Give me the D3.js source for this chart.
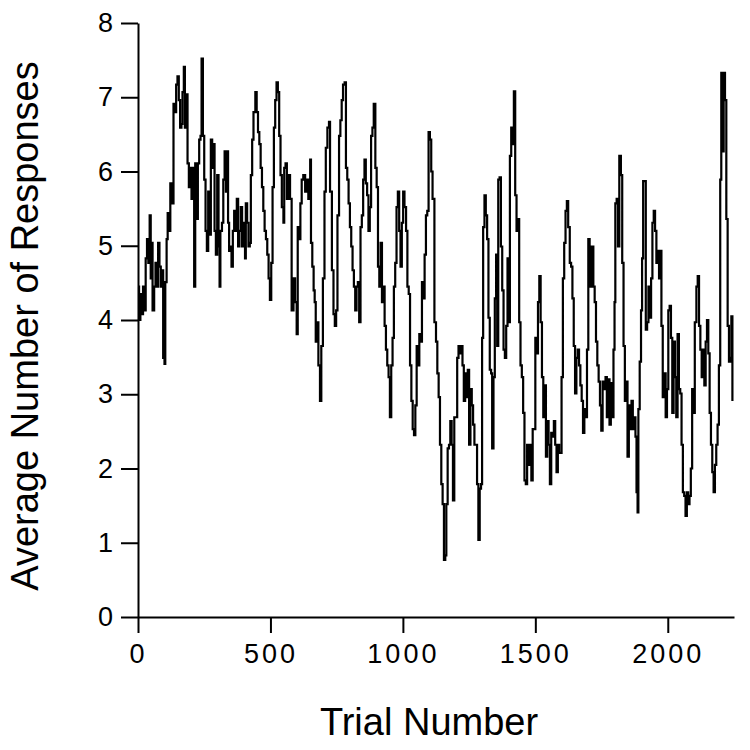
<!DOCTYPE html>
<html lang="en">

<head>
    <meta charset="UTF-8">
    <title>Average Number of Responses</title>
    <style>
        body { margin: 0; background: #fff; }
        text { font-family: "Liberation Sans", Arial, sans-serif; fill: #000; }
    </style>
</head>

<body>
    <div id="graph"></div>
    <script src="https://d3js.org/d3.v7.min.js"></script>

    <script>
        const WIDTH = 750;
        const HEIGHT = 750;
        const PLOT_LEFT = 138;
        const PLOT_RIGHT = 734;
        const PLOT_TOP = 23;
        const PLOT_BOTTOM = 617;

        const X_MAX = 2250;
        const Y_MAX = 8;
        const X_TICKS = [0, 500, 1000, 1500, 2000];
        const Y_TICKS = [0, 1, 2, 3, 4, 5, 6, 7, 8];

        // trial number of each point
        const TRIALS = [
            0, 4, 9, 14, 19, 24, 29, 34, 39, 44, 48, 52, 55, 61, 66, 71, 76, 81, 86, 91,
            95, 100, 103, 108, 112, 117, 122, 129, 134, 139, 144, 149, 154, 159, 164, 168, 173, 177, 182, 187,
            192, 197, 202, 208, 212, 216, 221, 226, 231, 236, 240, 245, 250, 255, 260, 265, 270, 275, 280, 285,
            289, 294, 299, 304, 308, 311, 317, 322, 327, 332, 337, 340, 344, 349, 353, 358, 363, 368, 373, 378,
            383, 388, 393, 398, 404, 407, 412, 417, 422, 426, 431, 436, 443, 448, 453, 458, 463, 468, 473, 478,
            483, 488, 493, 498, 503, 508, 513, 518, 523, 528, 533, 538, 543, 549, 552, 557, 562, 567, 574,
            580, 587, 593, 599, 603, 608, 613, 618, 624, 631, 637, 643, 650, 653, 658, 663, 667, 671, 676, 681,
            687, 692, 698, 704, 709, 715, 721, 725, 732, 738, 743, 748, 753, 759, 764, 769, 774, 780, 785, 790,
            795, 800, 805, 810, 815, 820, 825, 830, 835, 840, 845, 850, 855, 860, 865, 870, 875, 880, 885, 890,
            896, 901, 906, 911, 916, 921, 926, 931, 936, 941, 946, 951, 956, 961, 966, 971, 976, 981, 986, 991,
            996, 1001, 1006, 1012, 1017, 1022, 1027, 1032, 1037, 1042, 1047, 1052, 1057, 1062, 1067, 1072, 1077, 1082, 1087, 1092,
            1097, 1102, 1107, 1112,
            1119, 1125, 1130, 1135, 1140, 1145, 1150, 1155, 1160, 1164, 1169, 1174, 1179, 1184, 1189, 1194, 1200, 1205, 1210, 1215,
            1220, 1225, 1230, 1235, 1240, 1245, 1250, 1255, 1260, 1265, 1270, 1275, 1280, 1285, 1290, 1295, 1299, 1303, 1308, 1313,
            1318, 1323, 1328, 1333, 1337, 1342, 1347, 1352, 1356, 1360, 1365, 1370, 1375, 1380, 1385, 1390, 1395, 1400, 1404, 1409,
            1414, 1419, 1424, 1429, 1434, 1439, 1444, 1449, 1454, 1459, 1464, 1469, 1474, 1479, 1485, 1490, 1495, 1500, 1505, 1510,
            1515, 1520, 1525, 1530, 1535, 1540, 1545, 1550, 1555, 1560, 1565, 1570, 1575, 1580, 1585, 1590, 1595, 1599, 1604, 1609,
            1614, 1619, 1624, 1630, 1635, 1640, 1645, 1650, 1655, 1660, 1665, 1670, 1675, 1680, 1685, 1690, 1695, 1700, 1705,
            1713, 1719, 1724, 1729, 1734, 1739, 1744, 1749, 1754, 1759, 1765, 1770, 1775, 1780, 1785, 1790, 1795, 1799, 1802, 1807,
            1812, 1817, 1823, 1828, 1833, 1838, 1843, 1848, 1853, 1858, 1863, 1868, 1873, 1878, 1882, 1886, 1889, 1894, 1899, 1903,
            1907, 1912, 1917, 1922, 1927, 1932, 1937, 1942, 1947, 1952, 1957, 1962, 1967, 1973, 1976, 1981, 1986, 1992, 1997, 2002,
            2007, 2012, 2017, 2022, 2027, 2032, 2037, 2042, 2047, 2052, 2057, 2062, 2067, 2072, 2077, 2082, 2087, 2092, 2097, 2102,
            2108, 2113, 2118, 2123, 2128, 2133, 2138, 2143, 2148, 2153, 2158, 2163, 2168, 2173, 2178, 2183, 2188, 2193, 2198, 2202,
            2206, 2211, 2216, 2221, 2226, 2231, 2236, 2240, 2244
        ];

        const RESPONSES = [
            4.45, 4.00, 4.35, 4.08, 4.45, 4.13, 4.83, 5.09, 4.77, 5.41, 4.56, 5.04, 4.13, 4.45, 4.77, 4.45, 5.04, 4.72, 4.45, 4.67,
            3.49, 3.41, 4.51, 5.09, 5.44, 5.20, 5.84, 5.57, 6.91, 6.80, 7.17, 7.28, 6.96, 6.59, 6.64, 7.07, 7.41, 6.59, 7.04, 6.11,
            5.79, 6.05, 5.63, 6.05, 4.45, 6.11, 5.36, 6.11, 6.43, 6.48, 7.52, 6.48, 5.89, 5.20, 4.93, 5.73, 5.15, 6.43, 6.05, 6.37,
            5.20, 4.88, 5.95, 4.99, 4.45, 5.20, 5.31, 5.89, 6.27, 5.73, 6.27, 5.31, 4.93, 4.99, 4.72, 5.20, 5.47, 5.20, 5.63, 4.99,
            5.20, 5.52, 4.99, 5.31, 4.83, 5.57, 5.31, 4.99, 5.04, 5.95, 6.43, 6.80, 7.07, 6.80, 6.53, 6.37, 6.05, 5.79, 5.47, 5.20,
            5.09, 4.88, 4.56, 4.27, 4.77, 5.79, 6.59, 6.96, 7.20, 7.07, 6.48, 5.95, 5.52, 5.31, 6.05, 6.11, 5.63, 5.95, 5.63,
            4.13, 4.56, 4.24, 3.81, 5.25, 5.09, 5.57, 5.89, 5.95, 5.73, 5.89, 5.63, 6.16, 5.04, 4.72, 4.40, 4.24, 3.71, 3.97, 3.39,
            2.91, 3.65, 4.56, 5.73, 6.32, 6.59, 6.67, 5.73, 4.67, 4.08, 3.92, 4.13, 5.41, 6.48, 6.69, 6.96, 7.17, 7.20, 6.05, 5.89,
            5.57, 5.25, 4.99, 4.67, 4.45, 4.13, 4.45, 4.51, 3.97, 5.25, 5.41, 5.89, 6.16, 5.84, 5.68, 5.20, 5.52, 6.48, 6.59, 6.91,
            6.05, 5.79, 4.72, 4.45, 5.04, 4.24, 4.45, 3.92, 3.60, 3.39, 3.23, 2.69, 3.39, 3.76, 4.45, 4.77, 5.52, 5.73, 5.20, 4.72,
            5.31, 5.73, 5.52, 5.20, 4.45, 4.35, 3.39, 2.91, 2.53, 2.45, 2.85, 3.65, 3.39, 3.81, 3.71, 4.51, 4.29, 4.88, 5.41, 5.47,
            6.53, 6.43, 6.00, 5.63,
            3.97, 3.71, 3.28, 2.96, 2.32, 1.79, 1.52, 0.77, 0.83, 1.52, 2.27, 2.32, 2.64, 2.32, 1.57, 2.69, 2.69, 3.49, 3.65, 3.55,
            3.65, 3.39, 2.91, 3.28, 2.96, 3.33, 2.32, 3.07, 2.85, 2.59, 2.32, 2.32, 1.79, 1.04, 1.73, 1.79, 3.76, 5.25, 5.68, 5.41,
            5.09, 4.03, 3.33, 3.28, 2.27, 3.23, 4.29, 4.88, 3.65, 5.89, 5.92, 4.99, 4.40, 3.60, 3.49, 3.92, 4.83, 3.97, 6.21, 6.59,
            6.37, 7.08, 5.68, 5.20, 5.36, 3.97, 3.39, 3.23, 2.75, 1.84, 1.79, 2.32, 2.05, 2.32, 1.84, 2.53, 2.53, 3.76, 3.55, 4.24,
            4.59, 3.97, 3.23, 2.69, 3.12, 2.16, 2.64, 2.32, 1.79, 2.48, 2.43, 2.64, 2.32, 1.95, 2.32, 2.21, 2.21, 3.23, 4.56, 5.04,
            5.47, 5.60, 5.25, 4.77, 4.72, 4.29, 3.65, 3.01, 3.49, 3.60, 3.39, 3.12, 2.91, 2.48, 2.80, 2.69, 3.60, 5.09, 4.45,
            4.99, 4.45, 4.24, 3.71, 3.39, 3.17, 2.85, 2.51, 3.17, 3.07, 3.23, 2.69, 3.20, 2.59, 3.15, 2.69, 3.60, 4.24, 5.57, 5.63,
            4.99, 6.21, 5.95, 4.77, 3.65, 2.91, 3.17, 2.16, 2.85, 2.53, 2.91, 2.53, 2.69, 2.43, 1.68, 1.41, 2.80, 3.44, 4.13, 4.83,
            5.87, 5.87, 3.87, 3.97, 4.45, 4.03, 4.56, 5.31, 5.47, 5.20, 4.77, 4.93, 4.56, 4.93, 3.92, 2.96, 3.28, 2.69, 3.07, 4.13,
            4.19, 3.76, 2.75, 3.71, 3.23, 2.69, 3.81, 3.07, 3.01, 2.32, 1.68, 1.63, 1.36, 1.68, 1.52, 1.63, 2.00, 3.07, 2.75, 3.97,
            4.45, 4.59, 3.92, 3.60, 3.23, 3.60, 3.12, 3.71, 4.00, 3.55, 2.75, 2.32, 1.95, 1.68, 2.05, 2.32, 2.59, 3.39, 5.89, 7.33,
            6.27, 7.33, 6.96, 5.36, 3.92, 3.44, 3.49, 4.05, 2.91
        ];

        const X_TITLE = "Trial Number";
        const Y_TITLE = "Average Number of Responses";

        const points = d3.zip(TRIALS, RESPONSES);

        const xScale = d3.scaleLinear()
            .domain([0, X_MAX])
            .range([PLOT_LEFT, PLOT_RIGHT]);

        const yScale = d3.scaleLinear()
            .domain([0, Y_MAX])
            .range([PLOT_BOTTOM, PLOT_TOP]);

        const svg = d3.select("#graph")
            .append("svg")
            .attr("width", WIDTH)
            .attr("height", HEIGHT);

        const xAxis = svg.append("g")
            .attr("transform", `translate(0, ${PLOT_BOTTOM})`)
            .call(d3.axisBottom(xScale)
                .tickValues(X_TICKS)
                .tickFormat(d3.format("d"))
                .tickSize(16)
                .tickSizeOuter(0)
                .tickPadding(11));

        const yAxis = svg.append("g")
            .attr("transform", `translate(${PLOT_LEFT}, 0)`)
            .call(d3.axisLeft(yScale)
                .tickValues(Y_TICKS)
                .tickFormat(d3.format("d"))
                .tickSize(17)
                .tickSizeOuter(0)
                .tickPadding(5));

        [xAxis, yAxis].forEach(g => {
            g.select(".domain").attr("stroke", "#000").attr("stroke-width", 2);
            g.selectAll(".tick line").attr("stroke", "#000").attr("stroke-width", 2);
            g.selectAll(".tick text")
                .attr("font-size", 27)
                .attr("letter-spacing", 3)
                .attr("fill", "#000");
        });

        svg.append("path")
            .datum(points)
            .attr("fill", "none")
            .attr("stroke", "#000")
            .attr("stroke-width", 2.2)
            .attr("d", d3.line()
                .x(d => xScale(d[0]))
                .y(d => yScale(d[1]))
                .curve(d3.curveStepAfter));

        svg.append("text")
            .attr("x", 429)
            .attr("y", 735)
            .attr("text-anchor", "middle")
            .attr("font-size", 38)
            .text(X_TITLE);

        svg.append("text")
            .attr("transform", "translate(38, 326) rotate(-90)")
            .attr("text-anchor", "middle")
            .attr("font-size", 38)
            .text(Y_TITLE);
    </script>
</body>

</html>
